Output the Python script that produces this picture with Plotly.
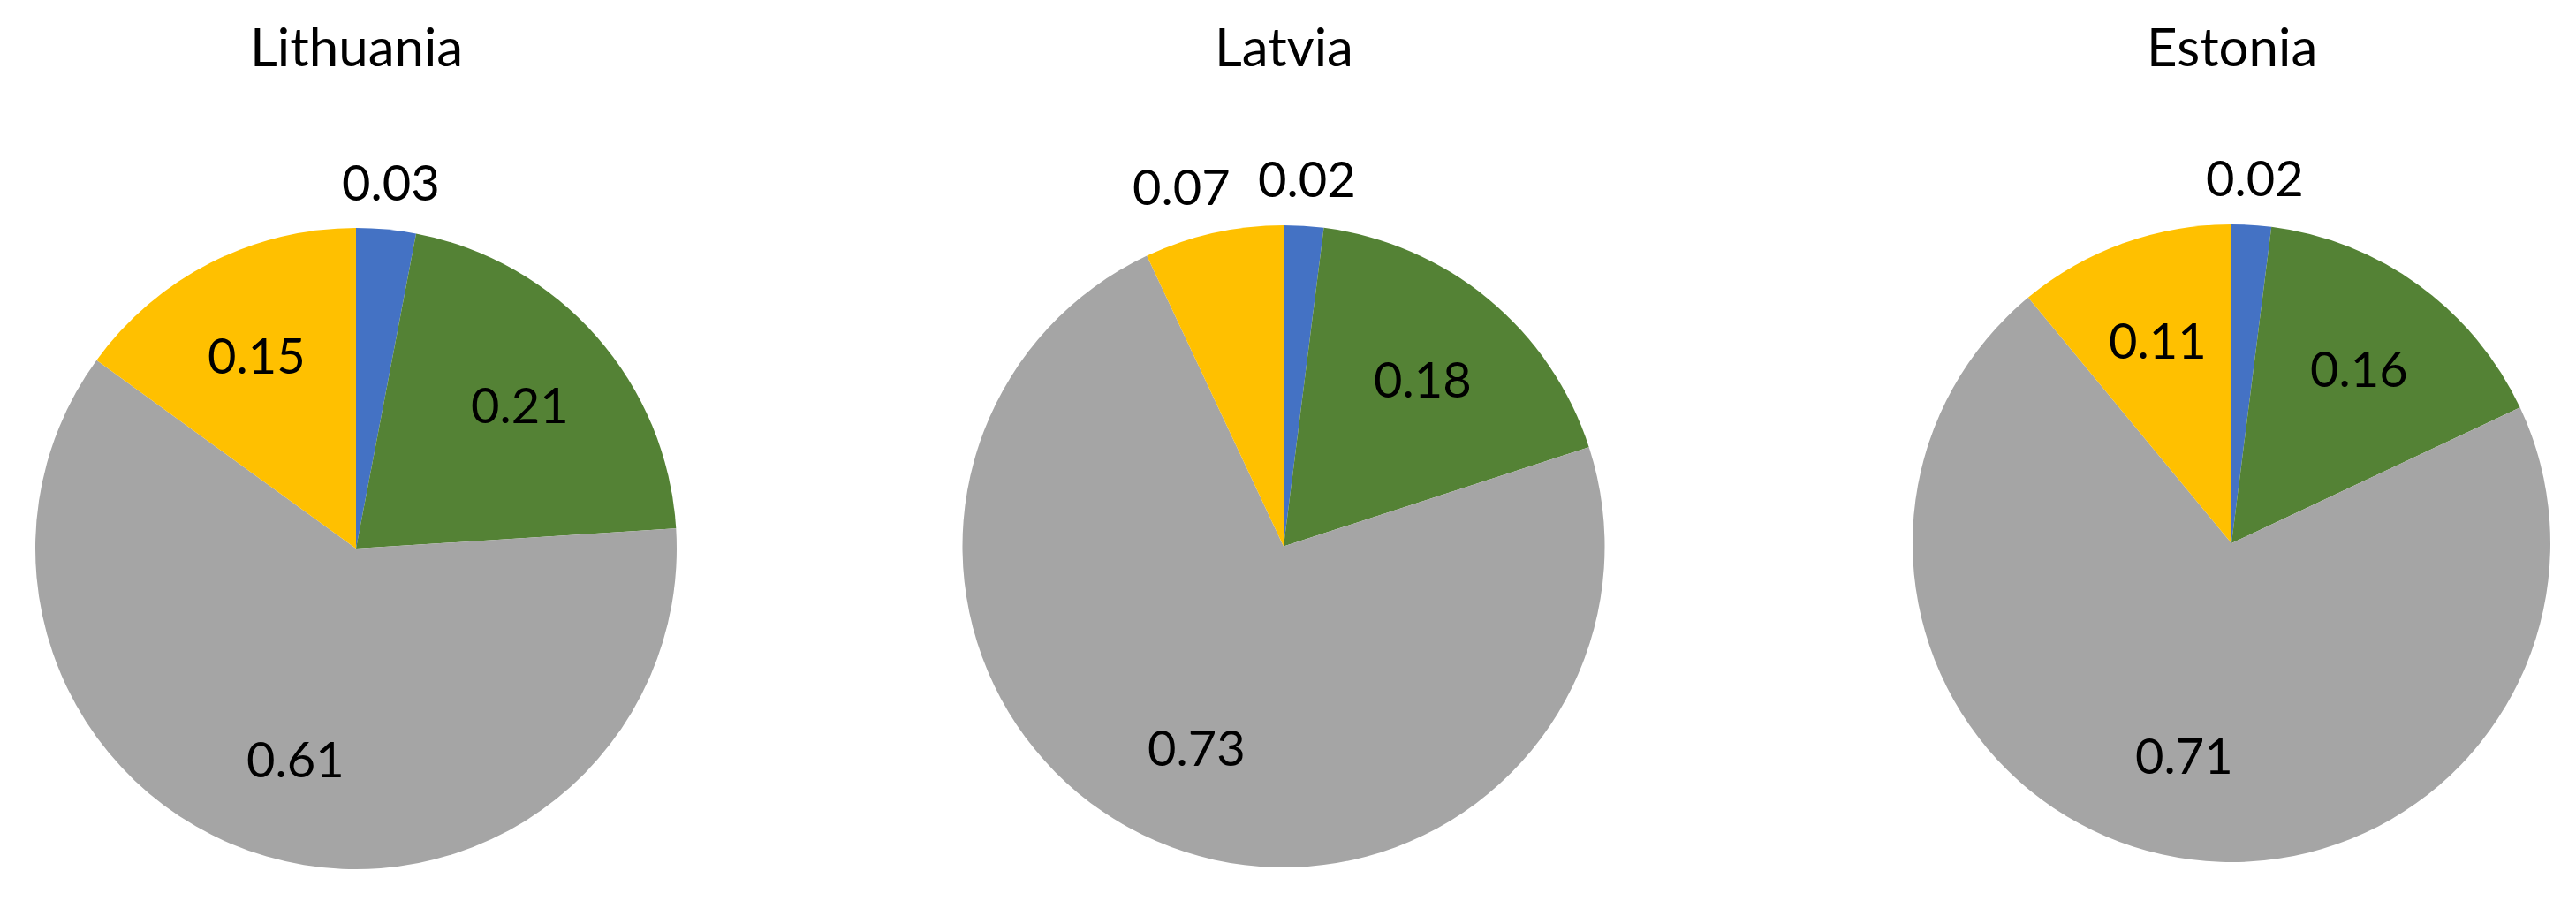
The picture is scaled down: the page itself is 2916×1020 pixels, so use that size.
import math
import plotly.graph_objects as go

countries = ["Lithuania", "Latvia", "Estonia"]
categories = ["A", "B", "C", "D"]
lithuania = [0.03, 0.21, 0.61, 0.15]
latvia = [0.02, 0.18, 0.73, 0.07]
estonia = [0.02, 0.16, 0.71, 0.11]
colors = ["#4472C4", "#548235", "#A5A5A5", "#FFC000"]

W, H = 2916, 1020
FONT = "Lato"
LABEL_SIZE = 56

# pie boxes in pixels: (center x, center y, radius)
boxes = [(403, 621, 363), (1453, 618.5, 363.5), (2526, 615, 361)]
OUTSIDE_LIMIT = 0.08   # slices at or below this get their label outside
F_IN, F_OUT = 0.68, 1.15
GAP = 30

fig = go.Figure()
for name, vals, (cx, cy, r) in zip(countries, [lithuania, latvia, estonia], boxes):
    fig.add_trace(go.Pie(
        labels=categories, values=vals, name=name,
        sort=False, direction="clockwise", rotation=0,
        marker=dict(colors=colors, line=dict(width=0)),
        textinfo="none",
        showlegend=False, hoverinfo="label+value",
        domain=dict(x=[(cx - r) / W, (cx + r) / W], y=[1 - (cy + r) / H, 1 - (cy - r) / H]),
    ))
    fig.add_annotation(text=name, x=cx / W, y=1 - 52 / H, xref="paper", yref="paper",
                       showarrow=False, xanchor="center", yanchor="middle",
                       font=dict(family=FONT, size=60, color="black"))
    total = sum(vals)
    cum = 0.0
    placed = []  # (x, y, half width, half height) of outside labels
    for v in vals:
        mid = 2 * math.pi * (cum + v / 2) / total
        cum += v
        txt = f"{v:.2f}"
        outside = v <= OUTSIDE_LIMIT
        f = F_OUT if outside else F_IN
        px = cx + f * r * math.sin(mid)
        py = cy - f * r * math.cos(mid)
        if outside:
            hw, hh = len(txt) * 0.5 * LABEL_SIZE / 2, 0.6 * LABEL_SIZE
            for (ox, oy, ow, oh) in placed:
                if abs(px - ox) < hw + ow + GAP and abs(py - oy) < hh + oh:
                    if px < ox:
                        px = ox - (hw + ow + GAP)
                    else:
                        px = ox + (hw + ow + GAP)
            placed.append((px, py, hw, hh))
        fig.add_annotation(text=txt, x=px / W, y=1 - py / H, xref="paper", yref="paper",
                           showarrow=False, xanchor="center", yanchor="middle",
                           font=dict(family=FONT, size=LABEL_SIZE, color="black"))

fig.update_layout(
    width=W, height=H, margin=dict(l=0, r=0, t=0, b=0),
    paper_bgcolor="white", plot_bgcolor="white",
)
fig.write_html("out.html", config={"displayModeBar": False})

# remove the default page margin so the figure sits at the window origin
with open("out.html", encoding="utf-8") as fh:
    html = fh.read()
html = html.replace("<body>", '<body style="margin:0;padding:0;">', 1)
with open("out.html", "w", encoding="utf-8") as fh:
    fh.write(html)
